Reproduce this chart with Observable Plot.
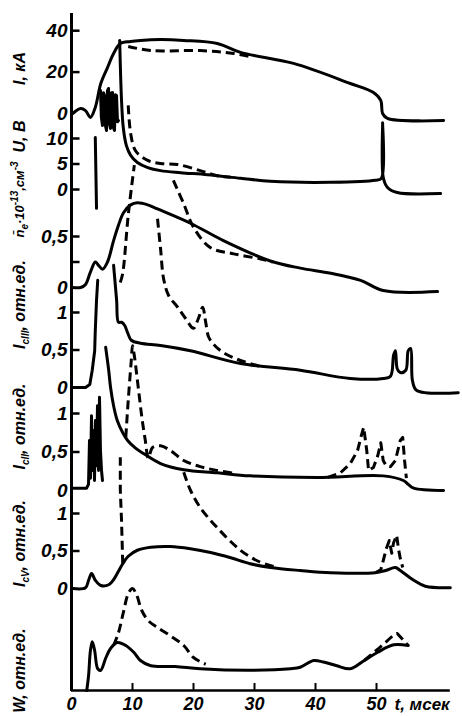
<!DOCTYPE html>
<html><head><meta charset="utf-8">
<script src="https://cdn.jsdelivr.net/npm/d3@7"></script>
<script src="https://cdn.jsdelivr.net/npm/@observablehq/plot@0.6"></script>
<style>body{margin:0;background:#fff}</style>
</head><body><div id="chart"></div>
<script>
// ---------- values (t in ms) ----------
// I, kA
const I_t  = [0.2,1.5,2.3,3.1,3.9,4.8,5.9,6.9,8.0,9.7,11.3,14.6,18.4,23.9,27.7,36.4,45.7,49.5,50.7,51.0,51.8,61.0];
const I_v  = [0,2.4,1.4,-1.9,2.9,14.5,22.2,29.0,33.8,34.8,35.3,35.7,35.3,33.8,29.5,24.2,14.5,10.1,6.3,0,-2.4,-3.4];
const Ins_t = [4.75,4.9,5.08,5.25,5.41,5.57,5.74,5.9,6.07,6.23,6.39,6.56,6.72,6.88,7.05,7.21,7.38,7.54,7.7];
const Ins_v = [11.1,-2,-5.8,10,8.7,-6,-8.2,11,12.1,-5,-7.2,10,10.1,-7,-8.2,9,8.7,-4,-3.4];
const Id_t = [9.3,13.0,21.1,26.6,29.3];
const Id_v = [32.4,30.4,30.4,29.0,27.5];
// U, V
const U0_t = [3.9,4.1];
const U0_v = [10.2,-3.7];
const U_t  = [7.9,8.2,8.5,9.0,9.7,10.8,12.5,14.6,17.9,22.3,27.7,32.6,42.5,49.8,50.8,51.0,51.1,51.8,53.4,60.5];
const U_v  = [29.2,17.5,12.0,8.6,6.7,5.3,4.3,3.7,3.3,2.9,2.2,1.6,1.4,1.8,2.2,13.1,2.4,0.4,-0.6,-0.8];
const Ud_t = [9.3,9.7,10.5,12.5,14.6,17.4,21.1,23.9,26.1];
const Ud_v = [16.5,11.0,7.6,5.7,5.1,4.9,3.7,2.7,2.4];
// n_e, 10^13 cm^-3
const ne_t  = [0.2,1.5,2.3,3.1,3.9,4.4,5.1,5.9,6.9,7.7,8.5,9.7,10.8,12.5,14.1,19.5,24.9,32.6,37.5,42.5,47.4,51.1,60.0];
const ne_v  = [0,0,0.03,0.15,0.25,0.22,0.18,0.25,0.46,0.61,0.73,0.81,0.83,0.81,0.77,0.63,0.46,0.26,0.19,0.14,0.07,-0.03,-0.04];
const ned1_t = [8.0,8.4,9.3,10.3];
const ned1_v = [0.05,0.14,0.71,1.2];
const ned2_t = [16.7,18.4,20.0,22.8,26.6,31.0,33.0];
const ned2_v = [1.05,0.82,0.59,0.39,0.33,0.28,0.25];
// I_cIII
const c3a_t = [0.2,2.3,3.0,3.4,3.8,3.9,4.1,4.3];
const c3a_v = [0,0,0.04,0.23,0.49,0.76,1.16,1.43];
const c3_t = [6.9,7.4,7.7,8.2,8.7,9.2,9.8,11.3,14.6,19.5,27.7,37.5,45.7,51.1,52.3,52.8,53.1,53.4,53.9,54.8,55.2,55.6,55.9,56.6,63.4];
const c3_v = [1.63,1.16,0.87,0.87,0.83,0.73,0.63,0.59,0.56,0.49,0.32,0.23,0.12,0.12,0.15,0.43,0.49,0.25,0.20,0.23,0.49,0.52,0.09,-0.04,-0.07];
const c3d_t = [14.1,14.6,15.1,15.9,17.4,18.7,20.0,20.8,21.5,22.0,22.5,23.6,25.2,27.7,31.0];
const c3d_v = [2.25,1.85,1.45,1.23,1.07,0.92,0.79,0.92,1.07,0.87,0.67,0.55,0.45,0.36,0.28];
// I_cII
const c2a_t = [0.2,2.46,2.79,2.95,3.11,3.28,3.44,3.61,3.77,3.93,4.10,4.26,4.43,4.59,4.75,4.92,5.08];
const c2a_v = [0.03,0.03,0.08,0.65,0.16,0.97,0.26,0.78,0.13,0.91,0.32,1.10,0.26,1.21,0.52,0.26,0.13];
const c2_t = [5.6,6.1,6.4,6.9,7.5,8.4,9.2,10.5,11.8,14.6,18.4,23.9,29.3,40.3,51.1,54.4,55.2,56.1,61.0];
const c2_v = [1.86,1.56,1.34,1.10,0.91,0.75,0.65,0.55,0.48,0.35,0.27,0.23,0.19,0.17,0.19,0.13,0.08,0.03,0];
const c2d_t = [8.9,9.3,9.8,10.0,10.3,11.0,11.6,12.1,12.6,13.3,14.6,16.2,18.4,21.1,23.9,26.9];
const c2d_v = [0.69,1.17,1.69,1.88,1.75,1.30,0.91,0.65,0.42,0.56,0.58,0.52,0.39,0.31,0.26,0.22];
const c2e_t = [42.0,44.1,45.7,46.9,47.5,47.9,48.4,48.7,49.5,50.2,50.7,51.1,51.6,52.3,53.1,53.9,54.3,54.6,54.9];
const c2e_v = [0.17,0.23,0.35,0.52,0.71,0.82,0.52,0.26,0.30,0.45,0.62,0.39,0.32,0.31,0.39,0.65,0.69,0.39,0.16];
// I_cV
const c5_t = [0.2,2.3,2.8,3.3,3.9,4.8,6.1,7.0,7.7,8.4,9.3,10.8,13.0,16.2,19.5,22.8,26.1,29.3,32.6,37.5,42.5,49.8,51.5,53.1,53.9,56.1,58.0,62.1];
const c5_v = [0,0.01,0.11,0.2,0.11,0.04,0.05,0.13,0.23,0.33,0.43,0.51,0.55,0.56,0.53,0.48,0.41,0.33,0.28,0.24,0.21,0.21,0.24,0.28,0.24,0.11,0.03,0.01];
const c5d1_t = [8.4,8.2,8.0,8.0];
const c5d1_v = [0.33,0.91,1.31,1.75];
const c5d2_t = [18.4,19.5,21.1,23.9,27.7,30.7,33.4];
const c5d2_v = [1.55,1.31,1.08,0.81,0.51,0.36,0.29];
const c5e_t = [49.8,50.7,51.1,51.6,52.1,52.5,52.8,53.3,53.6,53.9,54.3];
const c5e_v = [0.21,0.25,0.37,0.53,0.64,0.47,0.61,0.71,0.53,0.40,0.28];
// W
const W_t = [2.5,2.8,3.1,3.4,3.8,4.3,4.8,5.6,6.4,7.5,8.9,10.2,11.3,13.0,17.0,21.1,29.3,35.9,37.5,39.7,41.3,43.5,45.7,48.0,50.2,52.8,55.2];
const W_v = [0,0.2,0.53,0.65,0.53,0.29,0.27,0.43,0.56,0.64,0.6,0.51,0.40,0.33,0.32,0.29,0.27,0.29,0.31,0.40,0.38,0.33,0.29,0.40,0.51,0.61,0.60];
const Wd_t = [6.9,7.7,8.5,9.3,10.0,10.7,11.5,12.6,14.1,16.2,18.4,20.0,22.0];
const Wd_v = [0.60,0.77,1.04,1.29,1.36,1.27,1.07,0.93,0.84,0.73,0.6,0.44,0.35];
const We_t = [48.0,50.2,52.0,52.8,53.4,55.2];
const We_v = [0.40,0.55,0.68,0.74,0.76,0.60];

// tick labels
const tickPanel = ["I","I","I","U","U","U","ne","ne","ne","c3","c3","c3","c2","c2","c2","c5","c5","c5"];
const tickValue = [40,20,0,10,5,0,0.5,0.25,0,1,0.5,0,1,0.5,0,1,0.5,0];
const tickLabel = ["40","20","0","10","5","0","0,5","","0","1","0,5","0","1","0,5","0","1","0,5","0"];
const tickMark  = [1,1,0,1,1,1,1,1,0,1,1,0,1,1,0,1,1,0];
const xTicks = [0,10,20,30,40,50];
const xTitle = "t, мсек";
const titles = ["I, кА","U, В","n\u0304_{e}·10^{-13},см^{-3}","I_{cIII}, отн.ед.","I_{cII}, отн.ед.","I_{cV}, отн.ед.","W, отн.ед."];

// ---------- layout (pixels) ----------
const panels = {
  I:{zero:113,k:2.07}, U:{zero:189,k:5.1}, ne:{zero:287,k:102},
  c3:{zero:387,k:75}, c2:{zero:490,k:77}, c5:{zero:588,k:75}, W:{zero:690,k:75}
};
const titleY = [68,136,199,304,426,543,670];
const titleSize = [16,16,13,16,16,16,16];
const axisTop = 13, axisBottom = 690, xAxisEnd = 62.1;
const Y = (p, v) => panels[p].zero - v * panels[p].k;

const S = (id,p,t,v,dash,curve) => ({id,p,t,v,dash,curve});
const series = [
  S("I","I",I_t,I_v,false,"catmull-rom"),
  S("Ins","I",Ins_t,Ins_v,false,"linear"),
  S("Id","I",Id_t,Id_v,true,"catmull-rom"),
  S("U0","U",U0_t,U0_v,false,"linear"),
  S("U","U",U_t,U_v,false,"catmull-rom"),
  S("Ud","U",Ud_t,Ud_v,true,"catmull-rom"),
  S("ne","ne",ne_t,ne_v,false,"catmull-rom"),
  S("ned1","ne",ned1_t,ned1_v,true,"catmull-rom"),
  S("ned2","ne",ned2_t,ned2_v,true,"catmull-rom"),
  S("c3a","c3",c3a_t,c3a_v,false,"linear"),
  S("c3","c3",c3_t,c3_v,false,"catmull-rom"),
  S("c3d","c3",c3d_t,c3d_v,true,"catmull-rom"),
  S("c2a","c2",c2a_t,c2a_v,false,"linear"),
  S("c2","c2",c2_t,c2_v,false,"catmull-rom"),
  S("c2d","c2",c2d_t,c2d_v,true,"catmull-rom"),
  S("c2e","c2",c2e_t,c2e_v,true,"linear"),
  S("c5","c5",c5_t,c5_v,false,"catmull-rom"),
  S("c5d1","c5",c5d1_t,c5d1_v,true,"linear"),
  S("c5d2","c5",c5d2_t,c5d2_v,true,"catmull-rom"),
  S("c5e","c5",c5e_t,c5e_v,true,"linear"),
  S("W","W",W_t,W_v,false,"catmull-rom"),
  S("Wd","W",Wd_t,Wd_v,true,"catmull-rom"),
  S("We","W",We_t,We_v,true,"linear")
];
const rows = series.flatMap(s => s.t.map((t,i) => ({id:s.id, t, y:Y(s.p, s.v[i]), dash:s.dash, curve:s.curve})));
const lineMark = (dash, curve) => Plot.line(rows.filter(r => r.dash === dash && r.curve === curve), {
  x:"t", y:"y", z:"id", curve, stroke:"#000", strokeWidth:3,
  strokeDasharray: dash ? "9,5" : undefined, strokeLinejoin:"round", strokeLinecap: dash ? "butt" : "round"
});

const ticks = tickPanel.map((p,i) => ({y:Y(p,tickValue[i]), label:tickLabel[i], mark:tickMark[i]}));
const titleRows = titles.map((s,i) => ({s, y:titleY[i], size:titleSize[i]}));
const font = {fontWeight:"bold", fontStyle:"italic"};

const svg = Plot.plot({
  width:462, height:716, margin:0,
  x:{domain:[0,60], range:[71,437], axis:null},
  y:{domain:[0,716], range:[0,716], axis:null},
  style:{fontFamily:"'Liberation Sans', Arial, sans-serif", background:"#fff", color:"#000"},
  marks:[
    Plot.ruleX([0], {y1:axisTop, y2:axisBottom+1, strokeWidth:3, stroke:"#000"}),
    Plot.ruleY([axisBottom], {x1:0, x2:xAxisEnd, strokeWidth:2.5, stroke:"#000"}),
    Plot.ruleY(ticks.filter(d => d.mark), {y:"y", x1:0, x2:1.4, strokeWidth:2.5, stroke:"#000"}),
    Plot.ruleX(xTicks.slice(1), {x:d => d, y1:axisBottom, y2:axisBottom-7, strokeWidth:2, stroke:"#000"}),
    Plot.text(ticks.filter(d => d.label), {x:0, y:"y", text:"label", dx:-4, textAnchor:"end", fontSize:19, ...font}),
    Plot.text(xTicks, {x:d => d, y:axisBottom, text:d => String(d), dy:14, fontSize:18, ...font}),
    Plot.text([xTitle], {x:50, y:axisBottom, text:d => d, dx:18, dy:14, textAnchor:"start", fontSize:17, ...font}),
    ...titleRows.map(d => Plot.text([d], {y:"y", text:"s", frameAnchor:"left", dx:19, rotate:-90, textAnchor:"middle", fontSize:d.size, ...font})),
    lineMark(false,"catmull-rom"), lineMark(false,"linear"),
    lineMark(true,"catmull-rom"), lineMark(true,"linear")
  ]
});

// rich text: _{sub} and ^{sup}
svg.querySelectorAll("text").forEach(el => {
  const s = el.textContent;
  if (!/[_^]\{/.test(s)) return;
  el.textContent = "";
  const re = /([_^])\{([^}]*)\}|([^_^]+)/g;
  let m, shift = 0;
  while ((m = re.exec(s))) {
    const ts = document.createElementNS("http://www.w3.org/2000/svg", "tspan");
    if (m[3]) {
      ts.textContent = m[3];
      if (shift) { ts.setAttribute("dy", (-shift) + "px"); shift = 0; }
    } else {
      const d = m[1] === "_" ? 4 : -6;
      ts.textContent = m[2];
      ts.setAttribute("font-size", "10");
      ts.setAttribute("dy", (d - shift) + "px");
      shift = d;
    }
    el.appendChild(ts);
  }
});
document.getElementById("chart").appendChild(svg);
</script>
</body></html>
